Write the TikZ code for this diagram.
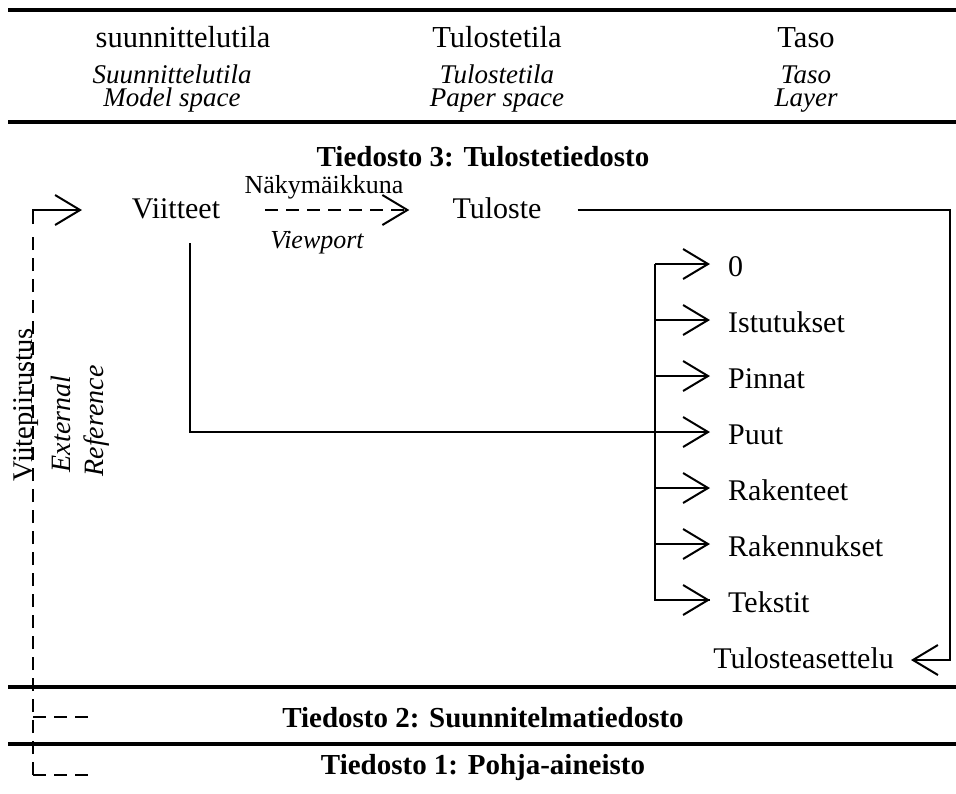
\documentclass[tikz,border=0pt]{standalone}
\usepackage{fontspec}
\setmainfont{Liberation Serif}
\usetikzlibrary{arrows.meta}
\begin{document}
\begin{tikzpicture}[x=1pt,y=-1pt,
  every node/.style={inner sep=0pt},
  rule/.style={line width=3.8pt},
  conn/.style={line width=2pt},
  dashconn/.style={line width=2pt, dash pattern=on 13pt off 8pt},
  chev/.style={-{Straight Barb[length=25pt,width=30pt]}},
  head/.style={font=\fontsize{30.5}{30.5}\selectfont, anchor=base},
  headit/.style={font=\fontsize{27}{27}\selectfont\itshape, anchor=base},
  title/.style={font=\fontsize{29}{29}\selectfont\bfseries, anchor=base},
  item/.style={font=\fontsize{30}{30}\selectfont, text height=24pt, text depth=0pt, anchor=west},
  main/.style={font=\fontsize{30}{30}\selectfont, text height=16pt, text depth=0pt},
  small/.style={font=\fontsize{26}{26}\selectfont, anchor=base},
  smallit/.style={font=\fontsize{26}{26}\selectfont\itshape, anchor=base},
]
\useasboundingbox (0,0) rectangle (956,793);

% horizontal rules
\draw[rule] (8,10) -- (956,10);
\draw[rule] (8,122) -- (956,122);
\draw[line width=3.4pt] (8,687) -- (956,687);
\draw[line width=3.4pt] (8,744) -- (956,744);

% column headings
\node[head]   (ms1) at (183,47)  {suunnittelutila};
\node[headit] (ms2) at (172,83)  {Suunnittelutila};
\node[headit] (ms3) at (172,106) {Model space};
\node[head]   (ps1) at (497,47)  {Tulostetila};
\node[headit] (ps2) at (497,83)  {Tulostetila};
\node[headit] (ps3) at (497,106) {Paper space};
\node[head]   (ly1) at (806,47)  {Taso};
\node[headit] (ly2) at (806,83)  {Taso};
\node[headit] (ly3) at (806,106) {Layer};

% file titles
\node[title] (f3) at (483,166) {Tiedosto 3: Tulostetiedosto};
\node[title] (f2) at (483,727) {Tiedosto 2: Suunnitelmatiedosto};
\node[title] (f1) at (483,774) {Tiedosto 1: Pohja-aineisto};

% main items
\node[main] (viit) at (176,210) {Viitteet};
\node[main] (tul)  at (497,210) {Tuloste};
\node[small]   (nak)  at (324,193) {Näkymäikkuna};
\node[smallit] (view) at (317,248) {Viewport};
\node[main, anchor=east] (tas) at (894,660) {Tulosteasettelu};

% layers
\node[item] (l0) at (728,264) {0};
\node[item] (l1) at (728,320) {Istutukset};
\node[item] (l2) at (728,376) {Pinnat};
\node[item] (l3) at (728,432) {Puut};
\node[item] (l4) at (728,488) {Rakenteet};
\node[item] (l5) at (728,544) {Rakennukset};
\node[item] (l6) at (728,600) {Tekstit};

% external reference labels
\node[font=\fontsize{28.5}{28.5}\selectfont, rotate=90, anchor=base] (xref) at (32,405) {Viitepiirustus};
\node[font=\fontsize{28}{28}\selectfont\itshape, rotate=90, anchor=base] (ext) at (70,424) {External};
\node[font=\fontsize{28}{28}\selectfont\itshape, rotate=90, anchor=base] (ref) at (103,421) {Reference};

% connectors
\draw[dashconn, chev] ([xshift=45pt]viit.east) -- ([xshift=-43pt]tul.west);
\draw[conn, chev] ([xshift=36pt]tul.east) -| (950,660) -- ([xshift=17pt]tas.east);
\draw[conn, chev] ([xshift=14pt,yshift=-25pt]viit.south) |- ([xshift=-18pt]l3.west);

\coordinate (bus) at (655,264);
\draw[conn] (bus) |- ([xshift=-18pt]l6.west);
\foreach \n in {l0,l1,l2,l4,l5,l6}
  \draw[conn, chev] (bus |- \n.west) -- ([xshift=-18pt]\n.west);

% dashed reference line on the left
\coordinate (xtop) at (33,210);
\coordinate (xbot) at (33,775);
\draw[conn, chev] (33,224) -- (xtop) -- (82,210);
\draw[dashconn] (xbot) -- (33,232);
\draw[dashconn] (33,717) -- (88,717);
\draw[dashconn] (xbot) -- (88,775);
\end{tikzpicture}
\end{document}
